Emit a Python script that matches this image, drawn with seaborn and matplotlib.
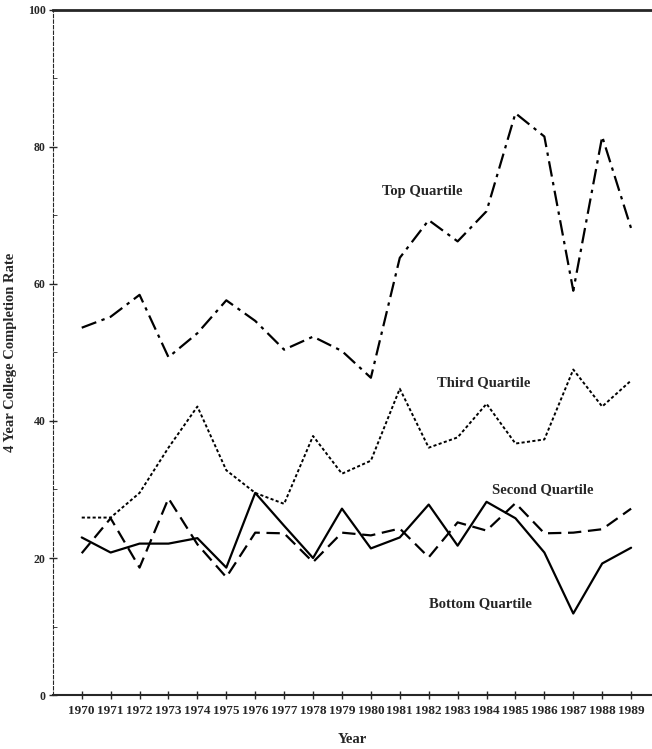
import pandas as pd
import matplotlib
matplotlib.use("Agg")
import matplotlib.pyplot as plt
import seaborn as sns

# data
years = list(range(1970, 1990))
top = [53.6, 55.2, 58.4, 49.3, 52.8, 57.6, 54.6, 50.4, 52.3, 50.2,
       46.3, 63.8, 69.3, 66.2, 70.6, 84.9, 81.5, 59.0, 81.5, 68.1]
third = [25.9, 25.9, 29.5, 36.1, 42.1, 32.8, 29.5, 27.9, 37.8, 32.3,
         34.2, 44.7, 36.1, 37.6, 42.5, 36.7, 37.3, 47.5, 42.1, 45.9]
second = [20.7, 25.8, 18.6, 28.7, 22.0, 17.2, 23.7, 23.6, 19.4, 23.7,
          23.3, 24.3, 20.1, 25.2, 24.0, 28.0, 23.6, 23.7, 24.2, 27.2]
bottom = [23.0, 20.8, 22.1, 22.1, 22.9, 18.6, 29.5, 24.7, 20.0, 27.2,
          21.4, 23.0, 27.8, 21.8, 28.2, 25.8, 20.8, 11.9, 19.2, 21.5]

series_names = ["Top Quartile", "Third Quartile", "Second Quartile", "Bottom Quartile"]
label_pos = {"Top Quartile": (1980.4, 73.5), "Third Quartile": (1982.3, 45.6),
             "Second Quartile": (1984.2, 30.0), "Bottom Quartile": (1982.0, 13.4)}

df = pd.DataFrame({"Year": years * 4,
                   "Rate": top + third + second + bottom,
                   "Group": sum([[n] * len(years) for n in series_names], [])})

sns.set_style("ticks")
plt.rcParams["font.family"] = ["Liberation Serif", "DejaVu Serif"]

fig = plt.figure(figsize=(6.52, 7.49), dpi=100)
ax = fig.add_axes([0.081, 0.072, 0.918, 0.915])

styles = {"Top Quartile": ((7, 2.5, 1.5, 2.5), 1.6),
          "Third Quartile": ((1.6, 1.2), 1.4),
          "Second Quartile": ((6, 3), 1.6),
          "Bottom Quartile": ("", 1.6)}
for name in series_names:
    d, lw = styles[name]
    sub = df[df["Group"] == name]
    sns.lineplot(data=sub, x="Year", y="Rate", color="black", linewidth=lw,
                 dashes=d if d else True, ax=ax)
    if d:
        ax.lines[-1].set_dashes(d)

for name, (x, y) in label_pos.items():
    ax.text(x, y, name, fontsize=10.5, fontweight="bold", va="center", ha="left")

ax.set_xlim(1969.0, 1989.7)
ax.set_ylim(0, 100)
ax.set_xticks(years)
ax.set_xticklabels([str(y) for y in years], fontsize=9.5, fontweight="bold")
ax.set_yticks([0, 20, 40, 60, 80, 100])
ax.set_yticklabels(["0", "20", "40", "60", "80", "100"], fontsize=8.5, fontweight="bold")
ax.set_yticks(range(10, 100, 20), minor=True)
ax.tick_params(axis="both", direction="inout", length=6, width=1, pad=4)
ax.tick_params(axis="y", which="minor", direction="in", length=3)
ax.tick_params(axis="y", pad=2)

ax.set_xlabel("Year", fontsize=10.5, fontweight="bold", labelpad=12)
ax.set_ylabel("4 Year College Completion Rate", fontsize=10.5, fontweight="bold", labelpad=8)

ax.spines["right"].set_visible(False)
ax.spines["top"].set_linewidth(2)
ax.spines["bottom"].set_linewidth(1.5)
ax.spines["left"].set_linewidth(0.8)
ax.spines["left"].set_linestyle((0, (3, 2)))

fig.savefig("out.png", dpi=100)
